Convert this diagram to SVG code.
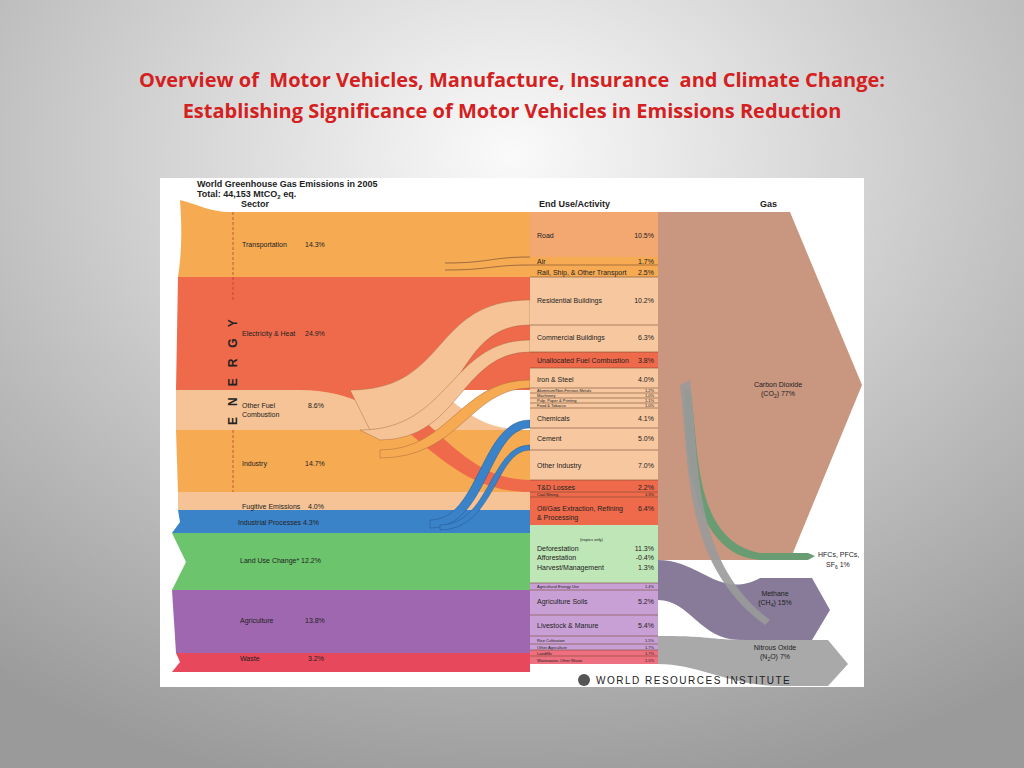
<svg xmlns="http://www.w3.org/2000/svg" width="1024" height="768" viewBox="0 0 1024 768">
<defs>
<radialGradient id="bg" cx="0.5" cy="0.2" r="0.85">
<stop offset="0" stop-color="#fafafa"/><stop offset="1" stop-color="#9a9a9a"/>
</radialGradient>
</defs>
<style>
text{font-family:"Liberation Sans",Arial,sans-serif;fill:#222}
.t{font-size:7px}
.s{font-size:4px}
.h{font-size:9px;font-weight:bold}
.ttl{font-family:"Open Sans","Liberation Sans",sans-serif;font-size:20px;font-weight:bold;fill:#d42020;white-space:pre}
.sep{stroke:#7a4a30;stroke-width:0.6}
.en{font-size:12px;font-weight:bold;letter-spacing:11px}
</style>
<rect width="1024" height="768" fill="url(#bg)"/>
<text class="ttl" x="512" y="87" text-anchor="middle">Overview of  Motor Vehicles, Manufacture, Insurance  and Climate Change:</text>
<text class="ttl" x="512" y="118" text-anchor="middle">Establishing Significance of Motor Vehicles in Emissions Reduction</text>
<rect x="160" y="178" width="704" height="509" fill="#fff"/>
<g id="header">
<text class="h" x="197" y="187">World Greenhouse Gas Emissions in 2005</text>
<text class="h" x="197" y="197">Total: 44,153 MtCO<tspan font-size="6" dy="2">2</tspan><tspan dy="-2"> eq.</tspan></text>
<text class="h" x="241" y="207">Sector</text>
<text class="h" x="539" y="207">End Use/Activity</text>
<text class="h" x="760" y="207">Gas</text>
</g>
<g id="gas">
<path d="M658 212 H790 L862 385 L790 560 H658 Z" fill="#c9967f"/>
<path d="M658 560 C700 560 720 600 760 578 H812 L830 610 L812 640 H740 C700 640 690 600 658 600 Z" fill="#877b99"/>
<path d="M658 636 C720 636 700 640 760 640 H828 L848 664 L828 686 H780 C730 686 700 664 658 664 Z" fill="#a9a9a9"/>
<path d="M690 390 C700 440 690 540 760 553 H808 L815 556 L808 560 H760 C690 555 685 450 684 390 Z" fill="#6a9c74"/>
<path d="M690 380 C700 460 690 560 770 620 L765 625 C683 565 690 470 680 385 Z" fill="#9a9a9a" opacity="0.9"/>
<text class="t" x="778" y="387" text-anchor="middle">Carbon Dioxide</text>
<text class="t" x="778" y="396" text-anchor="middle">(CO<tspan font-size="5" dy="2">2</tspan><tspan dy="-2">)  77%</tspan></text>
<text class="t" x="818" y="557">HFCs, PFCs,</text>
<text class="t" x="826" y="567">SF<tspan font-size="5" dy="2">6</tspan><tspan dy="-2">  1%</tspan></text>
<text class="t" x="775" y="596" text-anchor="middle">Methane</text>
<text class="t" x="775" y="605" text-anchor="middle">(CH<tspan font-size="5" dy="2">4</tspan><tspan dy="-2">)  15%</tspan></text>
<text class="t" x="775" y="650" text-anchor="middle">Nitrous Oxide</text>
<text class="t" x="775" y="659" text-anchor="middle">(N<tspan font-size="5" dy="2">2</tspan><tspan dy="-2">O)  7%</tspan></text>
</g>
<g id="connectors">
<path d="M180 200 C200 205 210 212 230 212 H530 V277 H178 C182 250 182 230 180 200 Z" fill="#f6aa52"/>
<path d="M178 277 H530 V390 H176 Z" fill="#ef6a4b"/>
<path d="M176 390 H420 C460 390 460 430 530 430 V430 H176 Z" fill="#f5c395"/>
<path d="M176 430 H530 V492 H178 Z" fill="#f6aa52"/>
<path d="M178 492 H530 V510 H178 Z" fill="#f5c395"/>
<path d="M178 510 H530 V533 H172 L180 522 Z" fill="#3b83c9"/>
<path d="M172 533 H530 V590 H172 L186 562 Z" fill="#6cc46c"/>
<path d="M172 590 H530 V653 H176 Z" fill="#a067b1"/>
<path d="M176 653 H530 V672 H172 L180 662 Z" fill="#e8485c"/>
<path d="M300 365 C420 365 440 480 530 480 V492 C430 492 410 390 300 390 Z" fill="#ef6a4b"/>
<path d="M350 390 C450 390 430 300 530 300 V325 C450 325 470 430 370 430 Z" fill="#f5c395" stroke="#9a5a3a" stroke-width="0.4"/>
<path d="M360 430 C450 430 450 340 530 340 V352 C460 352 460 440 380 440 Z" fill="#f5c395" stroke="#9a5a3a" stroke-width="0.4"/>
<path d="M380 450 C450 450 460 380 530 380 V388 C470 388 460 458 380 458 Z" fill="#f6aa52" stroke="#9a5a3a" stroke-width="0.4"/>
<path d="M430 520 C480 520 480 420 530 420 V428 C488 428 488 528 430 528 Z" fill="#3b83c9" stroke="#1a4a80" stroke-width="0.4"/>
<path d="M440 525 C490 525 490 445 530 445 V450 C495 450 495 530 440 530 Z" fill="#3b83c9" stroke="#1a4a80" stroke-width="0.4"/>
<path d="M445 263 C490 263 490 257 530 257 M445 270 C490 270 490 265 530 265" stroke="#8a5a3a" stroke-width="0.8" fill="none"/>
</g>
<g id="enduse">
<rect x="530" y="212" width="128" height="45" fill="#f3a872"/>
<rect x="530" y="257" width="128" height="20" fill="#f6aa52"/>
<rect x="530" y="277" width="128" height="75" fill="#f7c8a0"/>
<rect x="530" y="352" width="128" height="16" fill="#ef6a4b"/>
<rect x="530" y="368" width="128" height="112" fill="#f7c8a0"/>
<rect x="530" y="480" width="128" height="45" fill="#ef6a4b"/>
<rect x="530" y="525" width="128" height="58" fill="#bfe6b7"/>
<rect x="530" y="583" width="128" height="7" fill="#c9a0d6"/>
<rect x="530" y="590" width="128" height="60" fill="#c9a0d6"/>
<rect x="530" y="650" width="128" height="14" fill="#ee6f7f"/>
<g class="sep">
<line x1="530" y1="265" x2="658" y2="265"/><line x1="530" y1="277" x2="658" y2="277"/>
<line x1="530" y1="325" x2="658" y2="325"/><line x1="530" y1="352" x2="658" y2="352"/>
<line x1="530" y1="368" x2="658" y2="368"/><line x1="530" y1="388" x2="658" y2="388"/>
<line x1="530" y1="393" x2="658" y2="393"/><line x1="530" y1="398" x2="658" y2="398"/>
<line x1="530" y1="403" x2="658" y2="403"/><line x1="530" y1="408" x2="658" y2="408"/>
<line x1="530" y1="428" x2="658" y2="428"/><line x1="530" y1="450" x2="658" y2="450"/>
<line x1="530" y1="480" x2="658" y2="480"/><line x1="530" y1="492" x2="658" y2="492"/>
<line x1="530" y1="497" x2="658" y2="497"/><line x1="530" y1="583" x2="658" y2="583"/>
<line x1="530" y1="590" x2="658" y2="590"/><line x1="530" y1="615" x2="658" y2="615"/>
<line x1="530" y1="636" x2="658" y2="636"/><line x1="530" y1="644" x2="658" y2="644"/>
<line x1="530" y1="650" x2="658" y2="650"/><line x1="530" y1="656" x2="658" y2="656"/>
</g>
<text class="t" x="537" y="238">Road</text><text class="t" x="654" y="238" text-anchor="end">10.5%</text>
<text class="t" x="537" y="264">Air</text><text class="t" x="654" y="264" text-anchor="end">1.7%</text>
<text class="t" x="537" y="275">Rail, Ship, &amp; Other Transport</text><text class="t" x="654" y="275" text-anchor="end">2.5%</text>
<text class="t" x="537" y="303">Residential Buildings</text><text class="t" x="654" y="303" text-anchor="end">10.2%</text>
<text class="t" x="537" y="340">Commercial Buildings</text><text class="t" x="654" y="340" text-anchor="end">6.3%</text>
<text class="t" x="537" y="363">Unallocated Fuel Combustion</text><text class="t" x="654" y="363" text-anchor="end">3.8%</text>
<text class="t" x="537" y="382">Iron &amp; Steel</text><text class="t" x="654" y="382" text-anchor="end">4.0%</text>
<text class="s" x="537" y="392">Aluminum/Non-Ferrous Metals</text><text class="s" x="654" y="392" text-anchor="end">1.2%</text>
<text class="s" x="537" y="397">Machinery</text><text class="s" x="654" y="397" text-anchor="end">1.0%</text>
<text class="s" x="537" y="402">Pulp, Paper &amp; Printing</text><text class="s" x="654" y="402" text-anchor="end">1.1%</text>
<text class="s" x="537" y="407">Food &amp; Tobacco</text><text class="s" x="654" y="407" text-anchor="end">1.0%</text>
<text class="t" x="537" y="421">Chemicals</text><text class="t" x="654" y="421" text-anchor="end">4.1%</text>
<text class="t" x="537" y="441">Cement</text><text class="t" x="654" y="441" text-anchor="end">5.0%</text>
<text class="t" x="537" y="468">Other Industry</text><text class="t" x="654" y="468" text-anchor="end">7.0%</text>
<text class="t" x="537" y="490">T&amp;D Losses</text><text class="t" x="654" y="490" text-anchor="end">2.2%</text>
<text class="s" x="537" y="496">Coal Mining</text><text class="s" x="654" y="496" text-anchor="end">1.3%</text>
<text class="t" x="537" y="511">Oil/Gas Extraction, Refining</text><text class="t" x="654" y="511" text-anchor="end">6.4%</text>
<text class="t" x="537" y="520">&amp; Processing</text>
<text class="s" x="580" y="541" font-size="5">(tropics only)</text>
<text class="t" x="537" y="551">Deforestation</text><text class="t" x="654" y="551" text-anchor="end">11.3%</text>
<text class="t" x="537" y="560">Afforestation</text><text class="t" x="654" y="560" text-anchor="end">-0.4%</text>
<text class="t" x="537" y="570">Harvest/Management</text><text class="t" x="654" y="570" text-anchor="end">1.3%</text>
<text class="s" x="537" y="588">Agricultural Energy Use</text><text class="s" x="654" y="588" text-anchor="end">1.4%</text>
<text class="t" x="537" y="604">Agriculture Soils</text><text class="t" x="654" y="604" text-anchor="end">5.2%</text>
<text class="t" x="537" y="628">Livestock &amp; Manure</text><text class="t" x="654" y="628" text-anchor="end">5.4%</text>
<text class="s" x="537" y="642">Rice Cultivation</text><text class="s" x="654" y="642" text-anchor="end">1.5%</text>
<text class="s" x="537" y="649">Other Agriculture</text><text class="s" x="654" y="649" text-anchor="end">1.7%</text>
<text class="s" x="537" y="655">Landfills</text><text class="s" x="654" y="655" text-anchor="end">1.7%</text>
<text class="s" x="537" y="662">Wastewater, Other Waste</text><text class="s" x="654" y="662" text-anchor="end">1.5%</text>
</g>
<g id="sectors">
<line x1="233" y1="212" x2="233" y2="300" stroke="#b03a20" stroke-width="0.7" stroke-dasharray="3,2"/>
<line x1="233" y1="430" x2="233" y2="492" stroke="#b03a20" stroke-width="0.7" stroke-dasharray="3,2"/>
<text class="en" transform="translate(237 425) rotate(-90)">ENERGY</text>
<text class="t" x="242" y="247">Transportation</text><text class="t" x="305" y="247">14.3%</text>
<text class="t" x="242" y="336">Electricity &amp; Heat</text><text class="t" x="305" y="336">24.9%</text>
<text class="t" x="242" y="408">Other Fuel</text><text class="t" x="242" y="417">Combustion</text><text class="t" x="308" y="408">8.6%</text>
<text class="t" x="242" y="466">Industry</text><text class="t" x="305" y="466">14.7%</text>
<text class="t" x="242" y="509">Fugitive Emissions</text><text class="t" x="308" y="509">4.0%</text>
<text class="t" x="238" y="525">Industrial Processes  4.3%</text>
<text class="t" x="240" y="563">Land Use Change*  12.2%</text>
<text class="t" x="240" y="623">Agriculture</text><text class="t" x="305" y="623">13.8%</text>
<text class="t" x="240" y="661">Waste</text><text class="t" x="308" y="661">3.2%</text>
</g>
<g id="logo">
<circle cx="584" cy="680" r="6" fill="#555"/>
<text x="596" y="684" font-family="Liberation Serif,serif" font-size="10" letter-spacing="1.5" fill="#333">WORLD RESOURCES INSTITUTE</text>
</g>
</svg>
